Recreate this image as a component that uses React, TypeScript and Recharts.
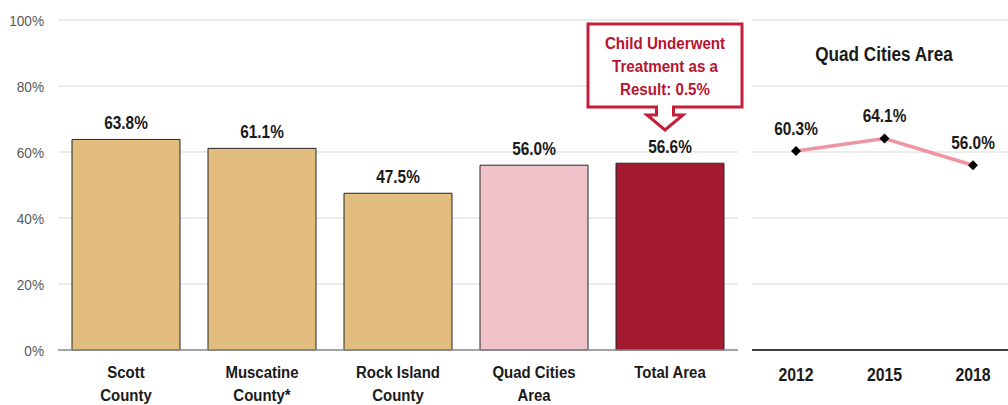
import React from 'react';
import {
  BarChart, Bar, Cell, LineChart, Line, XAxis, YAxis, CartesianGrid,
  LabelList, ReferenceDot,
} from 'recharts';

const FONT = '"Liberation Sans", Arial, sans-serif';
const SQUEEZE = 0.88; // reference uses a condensed face, emulate it

// left panel: county comparison
const categories = ['Scott\nCounty', 'Muscatine\nCounty*', 'Rock Island\nCounty', 'Quad Cities\nArea', 'Total Area'];
const values = [63.8, 61.1, 47.5, 56.0, 56.6];
const barColors = ['#E3BC7F', '#E3BC7F', '#E3BC7F', '#F0C2CA', '#A3192F'];
const yTicks = [0, 20, 40, 60, 80, 100];

// right panel: Quad Cities trend
const years = ['2012', '2015', '2018'];
const trend = [60.3, 64.1, 56.0];
const trendTicks = [0, 20, 40, 60, 80];

const calloutLines = ['Child Underwent', 'Treatment as a', 'Result: 0.5%'];

const barData = categories.map((c, i) => ({ name: c, value: values[i] }));
const lineData = years.map((y, i) => ({ year: y, value: trend[i] }));

const pct = (v: any) => `${Number(v).toFixed(1)}%`;

function NarrowText({ x, y, size, fill = '#1a1a1a', bold = true, anchor = 'middle', children }: any) {
  return (
    <text transform={`translate(${x},${y}) scale(${SQUEEZE},1)`} x={0} y={0} textAnchor={anchor}
      fill={fill} fontFamily={FONT} fontSize={size} fontWeight={bold ? 'bold' : 'normal'}>
      {children}
    </text>
  );
}

function YTick(props: any) {
  const { x, y, payload } = props;
  return <NarrowText x={x} y={y + 5.5} size={15.5} bold={false} fill="#595959" anchor="end">{`${payload.value}%`}</NarrowText>;
}

function CategoryTick(props: any) {
  const { x, y, payload } = props;
  const lines = String(payload.value).split('\n');
  return (
    <g>
      {lines.map((l, i) => (
        <NarrowText key={i} x={x} y={y + 28 + i * 23} size={17}>{l}</NarrowText>
      ))}
    </g>
  );
}

function YearTick(props: any) {
  const { x, y, payload } = props;
  return <NarrowText x={x} y={y + 31} size={18}>{payload.value}</NarrowText>;
}

const topLabel = (gap: number) => (props: any) => {
  const vb = props.viewBox || props;
  const x = vb.x + (vb.width || 0) / 2;
  return <NarrowText x={x} y={vb.y - gap} size={17.5}>{pct(props.value)}</NarrowText>;
};

function Callout(props: any) {
  const { cx, cy } = props;
  const c = cx - 5;
  const top = cy + 4;
  const bot = cy + 87;
  const d = `M${c - 77},${top} H${c + 77} V${bot} H${c + 8.5} V${bot + 8} H${c + 18} L${c},${bot + 23} L${c - 18},${bot + 8} H${c - 8.5} V${bot} H${c - 77} Z`;
  return (
    <g>
      <path d={d} fill="#fff" stroke="#C41E3A" strokeWidth={3} />
      {calloutLines.map((l, i) => (
        <NarrowText key={i} x={c} y={cy + 29 + i * 23} size={17.2} fill="#B8142F">{l}</NarrowText>
      ))}
    </g>
  );
}

function Diamond(props: any) {
  const { cx, cy } = props;
  const r = 5;
  return <path d={`M${cx},${cy - r} L${cx + r},${cy} L${cx},${cy + r} L${cx - r},${cy} Z`} fill="#000" />;
}

export default function App() {
  return (
    <div style={{ position: 'absolute', left: 0, top: 0, width: 1008, height: 405, overflow: 'hidden', background: '#fff', fontFamily: FONT }}>
      <div style={{ position: 'absolute', left: 0, top: 0 }}>
        <BarChart width={745} height={405} data={barData} margin={{ top: 20, right: 7, bottom: 5, left: 0 }}>
          <CartesianGrid vertical={false} stroke="#D9D9D9" />
          <YAxis
            width={58}
            domain={[0, 100]}
            ticks={yTicks}
            axisLine={false}
            tickLine={false}
            tickSize={0}
            tickMargin={14}
            tick={<YTick />}
          />
          <XAxis
            dataKey="name"
            height={50}
            interval={0}
            tickLine={false}
            tickSize={0}
            tickMargin={0}
            axisLine={{ stroke: '#8C8C8C', strokeWidth: 1.5 }}
            tick={<CategoryTick />}
          />
          <Bar dataKey="value" barSize={108} stroke="#262626" strokeWidth={1} isAnimationActive={false}>
            {barData.map((_, i) => <Cell key={i} fill={barColors[i]} />)}
            <LabelList dataKey="value" content={topLabel(10.5)} />
          </Bar>
          <ReferenceDot x="Total Area" y={100} r={0} shape={<Callout />} />
        </BarChart>
      </div>
      <div style={{ position: 'absolute', left: 740, top: 0 }}>
        <LineChart width={278} height={405} data={lineData} margin={{ top: 20, right: 0, bottom: 5, left: 12 }}>
          <CartesianGrid vertical={false} stroke="#D9D9D9" />
          <YAxis hide domain={[0, 100]} ticks={trendTicks} />
          <XAxis
            dataKey="year"
            height={50}
            padding={{ left: 44, right: 45 }}
            tickLine={false}
            tickSize={0}
            tickMargin={0}
            axisLine={{ stroke: '#404040', strokeWidth: 2 }}
            tick={<YearTick />}
          />
          <Line type="linear" dataKey="value" stroke="#EE94A2" strokeWidth={3.5}
            dot={<Diamond />} activeDot={false} isAnimationActive={false}>
            <LabelList dataKey="value" content={topLabel(16)} />
          </Line>
        </LineChart>
      </div>
      <div style={{ position: 'absolute', left: 784, width: 200, top: 45, lineHeight: 1, textAlign: 'center', fontSize: 19.5, fontWeight: 'bold', color: '#1a1a1a', fontFamily: FONT, transform: `scaleX(${SQUEEZE})` }}>
        Quad Cities Area
      </div>
    </div>
  );
}
